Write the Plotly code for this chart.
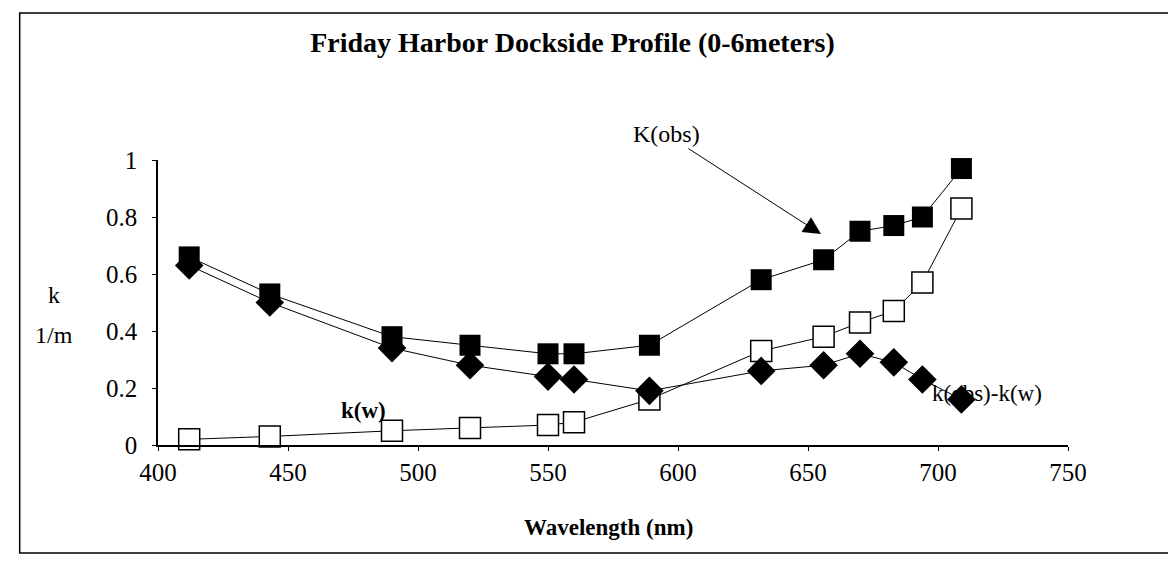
import plotly.graph_objects as go

# wavelengths (nm)
wavelength = [412, 443, 490, 520, 550, 560, 589, 632, 656, 670, 683, 694, 709]
k_obs = [0.66, 0.53, 0.38, 0.35, 0.32, 0.32, 0.35, 0.58, 0.65, 0.75, 0.77, 0.80, 0.97]
k_w = [0.02, 0.03, 0.05, 0.06, 0.07, 0.08, 0.16, 0.33, 0.38, 0.43, 0.47, 0.57, 0.83]
k_diff = [0.63, 0.50, 0.34, 0.28, 0.24, 0.23, 0.19, 0.26, 0.28, 0.32, 0.29, 0.23, 0.16]

serif = "Liberation Serif, Times New Roman, serif"

fig = go.Figure()

fig.add_trace(go.Scatter(
    x=wavelength, y=k_w, mode="lines+markers", name="k(w)",
    line=dict(color="black", width=1),
    marker=dict(symbol="square", size=21, color="white", line=dict(color="black", width=1.5)),
    cliponaxis=False,
))
fig.add_trace(go.Scatter(
    x=wavelength, y=k_diff, mode="lines+markers", name="k(obs)-k(w)",
    line=dict(color="black", width=1),
    marker=dict(symbol="diamond", size=22, color="black"),
    cliponaxis=False,
))
fig.add_trace(go.Scatter(
    x=wavelength, y=k_obs, mode="lines+markers", name="K(obs)",
    line=dict(color="black", width=1),
    marker=dict(symbol="square", size=21, color="black"),
    cliponaxis=False,
))

# labels on the chart
fig.add_annotation(x=655, y=0.74, ax=-155, ay=-100, text="K(obs)", showarrow=True,
                   arrowhead=2, arrowsize=3.5, arrowwidth=1, arrowcolor="black",
                   font=dict(size=24, family=serif, color="black"))
fig.add_annotation(x=479, y=0.12, text="<b>k(w)</b>", showarrow=False,
                   font=dict(size=23, family=serif, color="black"))
fig.add_annotation(x=719, y=0.18, text="k(obs)-k(w)", showarrow=False,
                   font=dict(size=23, family=serif, color="black"))

# axis titles
fig.add_annotation(xref="paper", yref="paper", x=-0.114, y=0.526, xanchor="center",
                   text="k", showarrow=False,
                   font=dict(size=24, family=serif, color="black"))
fig.add_annotation(xref="paper", yref="paper", x=-0.114, y=0.386, xanchor="center",
                   text="1/m", showarrow=False,
                   font=dict(size=24, family=serif, color="black"))
fig.add_annotation(xref="paper", yref="paper", x=0.495, y=-0.29, yanchor="middle",
                   text="<b>Wavelength (nm)</b>", showarrow=False,
                   font=dict(size=23, family=serif, color="black"))

# outer frame
fig.add_shape(type="rect", xref="paper", yref="paper",
              x0=-0.152, x1=1.12, y0=-0.379, y1=1.516,
              line=dict(color="black", width=1.5))

fig.update_layout(
    width=1176, height=570,
    margin=dict(l=150, r=116, t=152, b=133),
    paper_bgcolor="white", plot_bgcolor="white",
    showlegend=False,
    title=dict(text="<b>Friday Harbor Dockside Profile (0-6meters)</b>",
               x=0.48, xanchor="center", y=0.94, yanchor="middle",
               font=dict(size=28, family=serif, color="black")),
    font=dict(family=serif, size=24, color="black"),
)
fig.update_xaxes(range=[400, 750], dtick=50, showgrid=False, zeroline=False,
                 showline=True, linecolor="black", linewidth=1.5,
                 ticks="outside", ticklen=4, tickcolor="black",
                 tickfont=dict(size=25, family=serif))
fig.update_yaxes(range=[0, 1], dtick=0.2, showgrid=False, zeroline=False,
                 showline=True, linecolor="black", linewidth=1.5,
                 ticks="outside", ticklen=4, tickcolor="black", ticklabelstandoff=10,
                 tickfont=dict(size=25, family=serif))

fig.write_html("out.html")
